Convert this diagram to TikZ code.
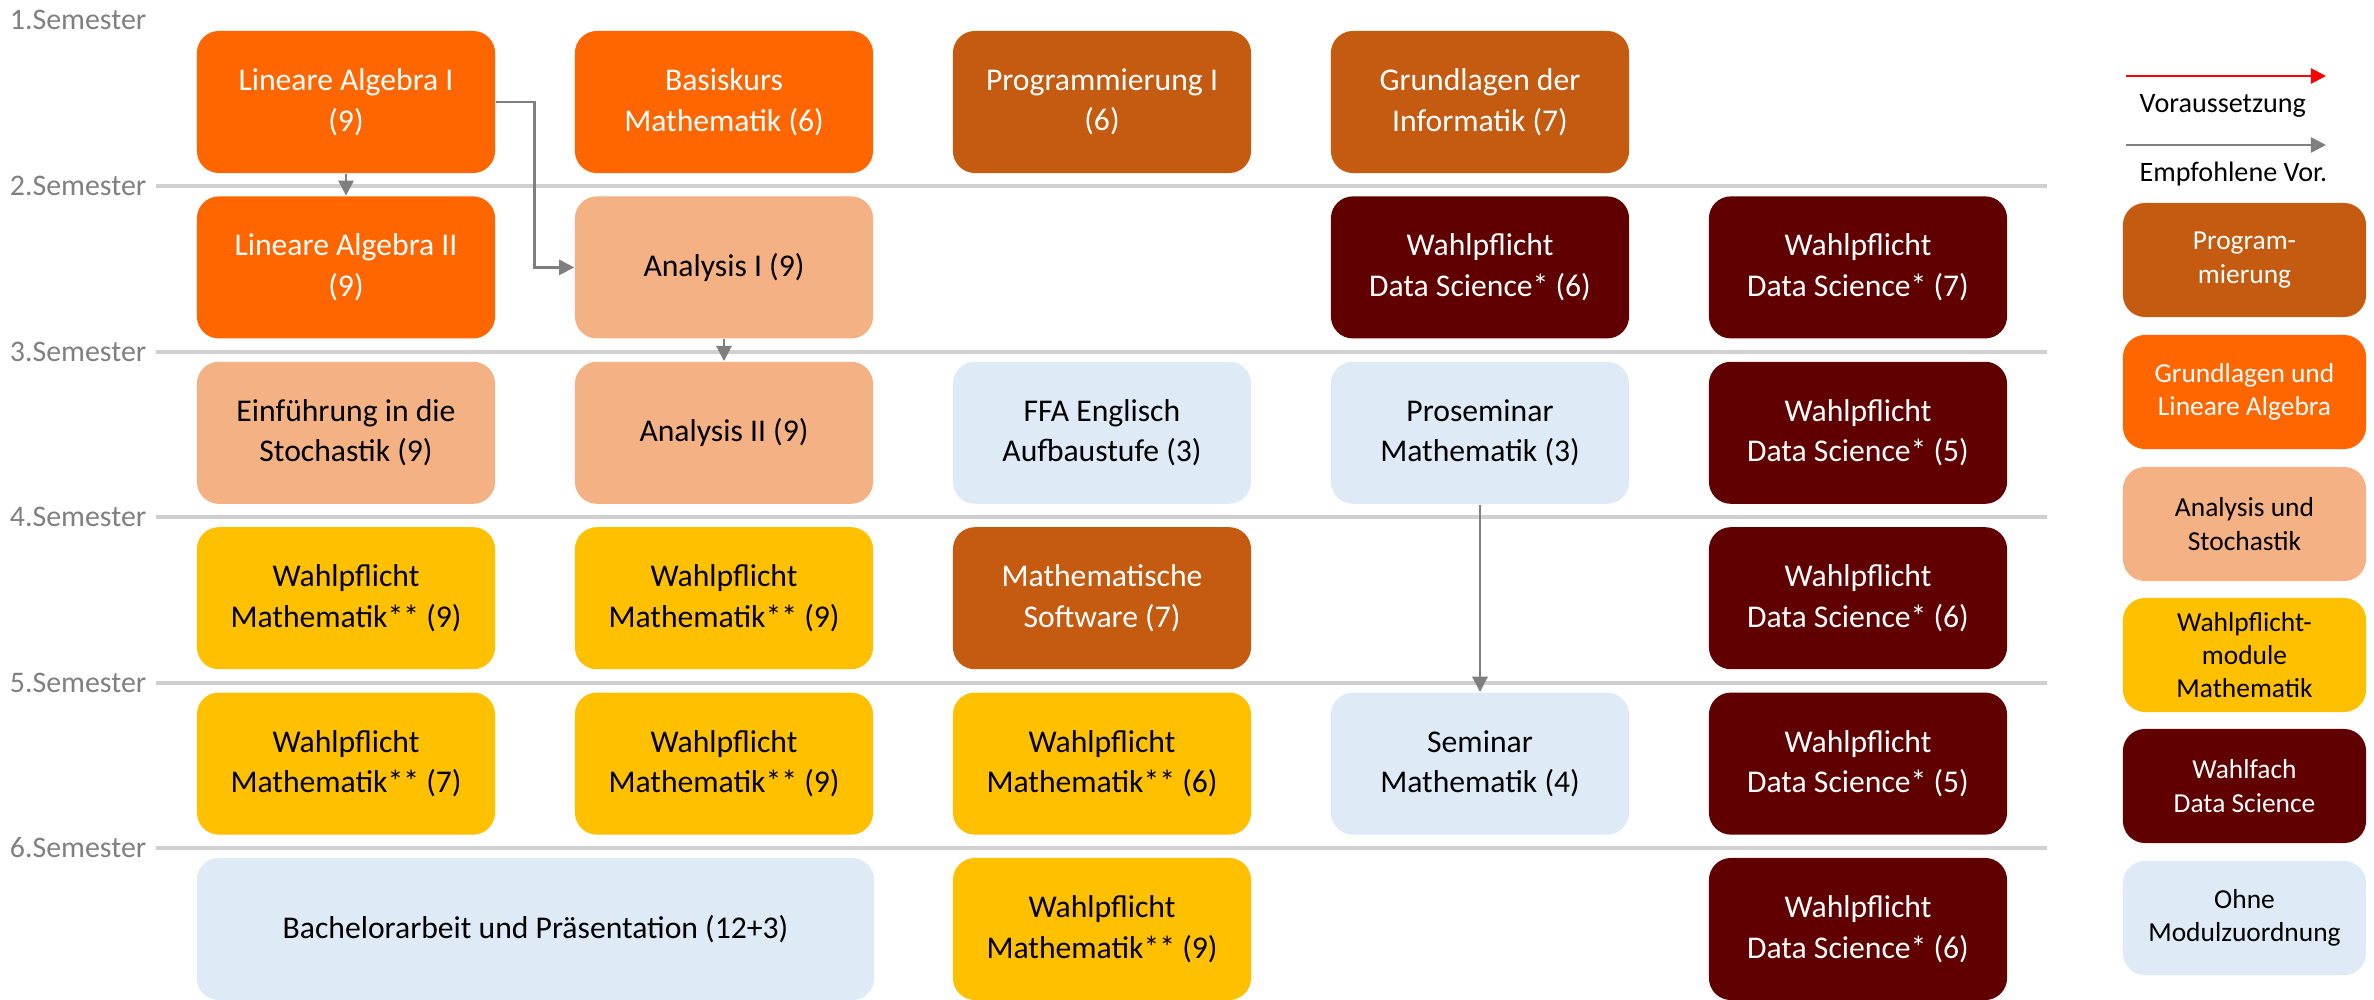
\documentclass[tikz,border=0pt]{standalone}
\usepackage{fontspec}
\setmainfont{Carlito}
\usetikzlibrary{arrows.meta}
\definecolor{cProg}{HTML}{C55A11}
\definecolor{cLA}{HTML}{FF6600}
\definecolor{cAna}{HTML}{F4B183}
\definecolor{cWM}{HTML}{FFC000}
\definecolor{cDS}{HTML}{600000}
\definecolor{cOhne}{HTML}{DEEBF7}
\definecolor{cLine}{HTML}{D0D0D0}
\definecolor{cSem}{HTML}{808080}
\definecolor{cArr}{HTML}{7F7F7F}
\tikzset{
 mod/.style={rectangle, rounded corners=0.22cm, minimum width=2.98cm, minimum height=1.42cm, align=center, inner sep=0pt, font=\fontsize{9}{11.5}\selectfont},
 prog/.style={mod, fill=cProg, text=white},
 la/.style={mod, fill=cLA, text=white},
 ana/.style={mod, fill=cAna, text=black},
 wm/.style={mod, fill=cWM, text=black},
 ds/.style={mod, fill=cDS, text=white},
 ohne/.style={mod, fill=cOhne, text=black},
 leg/.style={minimum width=2.43cm, minimum height=1.14cm, font=\fontsize{7.8}{9.5}\selectfont},
 semlabel/.style={anchor=east, text=cSem, font=\fontsize{8.5}{10}\selectfont, inner sep=0pt},
 semline/.style={draw=cLine, line width=1pt},
 rec/.style={draw=cArr, line width=0.75pt, -{Triangle[length=4.3pt,width=4.3pt]}},
 req/.style={draw=red, line width=0.75pt, -{Triangle[length=4.3pt,width=4.3pt]}},
 legtext/.style={anchor=base west, inner sep=0pt, font=\fontsize{8}{9.5}\selectfont},
}
\begin{document}
\begin{tikzpicture}[x=0.01cm,y=-0.01cm]
\useasboundingbox (0,0) rectangle (2374,1000);
% semester labels and lines
\node[semlabel] (s1) at (147,20) {1.Semester};
\node[semlabel] (s2) at (147,186) {2.Semester};
\node[semlabel] (s3) at (147,352) {3.Semester};
\node[semlabel] (s4) at (147,517) {4.Semester};
\node[semlabel] (s5) at (147,683) {5.Semester};
\node[semlabel] (s6) at (147,848) {6.Semester};
\draw[semline] (156,186) -- (2047,186);
\draw[semline] (156,352) -- (2047,352);
\draw[semline] (156,517) -- (2047,517);
\draw[semline] (156,683) -- (2047,683);
\draw[semline] (156,848) -- (2047,848);
% row 1
\node[la] (la1) at (346,102) {Lineare Algebra I\\(9)};
\node[la] (bas) at (724,102) {Basiskurs\\Mathematik (6)};
\node[prog] (prg1) at (1102,102) {Programmierung I\\(6)};
\node[prog] (ginf) at (1480,102) {Grundlagen der\\Informatik (7)};
% row 2
\node[la] (la2) at (346,267.4) {Lineare Algebra II\\(9)};
\node[ana] (ana1) at (724,267.4) {Analysis I (9)};
\node[ds] (ds2a) at (1480,267.4) {Wahlpflicht\\Data Science* (6)};
\node[ds] (ds2b) at (1858,267.4) {Wahlpflicht\\Data Science* (7)};
% row 3
\node[ana] (sto) at (346,432.8) {Einführung in die\\Stochastik (9)};
\node[ana] (ana2) at (724,432.8) {Analysis II (9)};
\node[ohne] (ffa) at (1102,432.8) {FFA Englisch\\Aufbaustufe (3)};
\node[ohne] (pros) at (1480,432.8) {Proseminar\\Mathematik (3)};
\node[ds] (ds3) at (1858,432.8) {Wahlpflicht\\Data Science* (5)};
% row 4
\node[wm] (wm4a) at (346,598.2) {Wahlpflicht\\Mathematik** (9)};
\node[wm] (wm4b) at (724,598.2) {Wahlpflicht\\Mathematik** (9)};
\node[prog] (msw) at (1102,598.2) {Mathematische\\Software (7)};
\node[ds] (ds4) at (1858,598.2) {Wahlpflicht\\Data Science* (6)};
% row 5
\node[wm] (wm5a) at (346,763.6) {Wahlpflicht\\Mathematik** (7)};
\node[wm] (wm5b) at (724,763.6) {Wahlpflicht\\Mathematik** (9)};
\node[wm] (wm5c) at (1102,763.6) {Wahlpflicht\\Mathematik** (6)};
\node[ohne] (sem) at (1480,763.6) {Seminar\\Mathematik (4)};
\node[ds] (ds5) at (1858,763.6) {Wahlpflicht\\Data Science* (5)};
% row 6
\node[ohne, minimum width=6.77cm] (ba) at (535.5,929) {Bachelorarbeit und Präsentation (12+3)};
\node[wm] (wm6) at (1102,929) {Wahlpflicht\\Mathematik** (9)};
\node[ds] (ds6) at (1858,929) {Wahlpflicht\\Data Science* (6)};
% connectors
\draw[rec] (la1.south) -- (la2.north);
\draw[rec] (la1.east) -- ++(39,0) |- (ana1.west);
\draw[rec] (ana1.south) -- (ana2.north);
\draw[rec] (pros.south) -- (sem.north);
% legend
\coordinate (ra) at (2126,76);
\coordinate (rb) at (2326,76);
\draw[req] (ra) -- (rb);
\node[legtext] (lv) at (2139,113) {Voraussetzung};
\coordinate (ga) at (2126,145);
\coordinate (gb) at (2326,145);
\draw[rec] (ga) -- (gb);
\node[legtext] (le) at (2139,182) {Empfohlene Vor.};
\node[prog, leg] (lg1) at (2244.5,260) {Program-\\mierung};
\node[la, leg] (lg2) at (2244.5,392) {Grundlagen und\\Lineare Algebra};
\node[ana, leg] (lg3) at (2244.5,524) {Analysis und\\Stochastik};
\node[wm, leg] (lg4) at (2244.5,655) {Wahlpflicht-\\module\\Mathematik};
\node[ds, leg] (lg5) at (2244.5,786) {Wahlfach\\Data Science};
\node[ohne, leg] (lg6) at (2244.5,918) {Ohne\\Modulzuordnung};
\end{tikzpicture}
\end{document}
